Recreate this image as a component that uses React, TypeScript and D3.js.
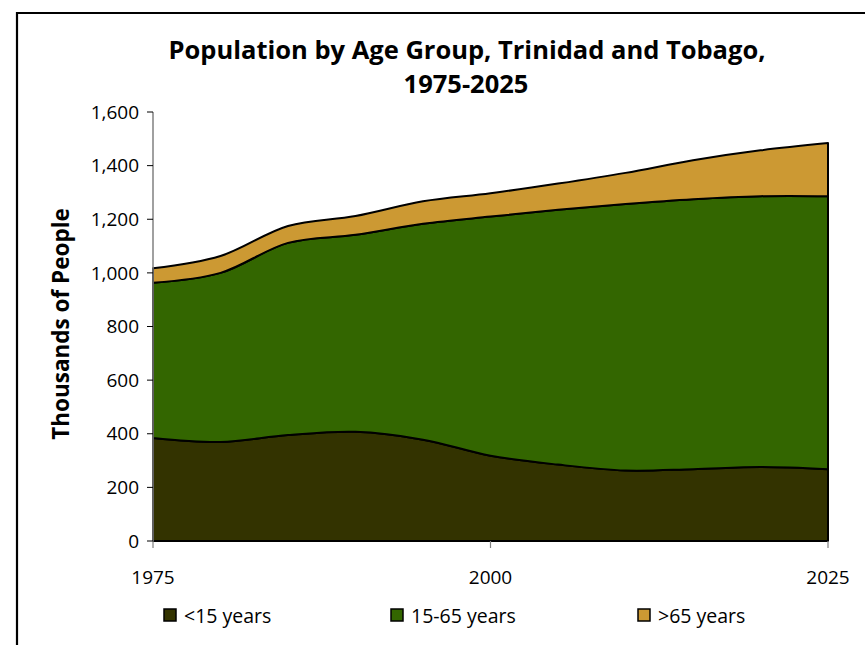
import { useEffect, useRef } from 'react';
import * as d3 from 'd3';

const YEARS = [1975, 1980, 1985, 1990, 1995, 2000, 2005, 2010, 2015, 2020, 2025];
const UNDER_15 = [384, 369, 395, 407, 378, 318, 285, 263, 268, 276, 268];
const AGE_15_65 = [579, 631, 717, 735, 805, 892, 950, 994, 1007, 1010, 1018];
const OVER_65 = [54, 63, 63, 70, 84, 87, 98, 116, 145, 171, 198];

const SERIES = ['<15 years', '15-65 years', '>65 years'];
const COLORS = ['#333300', '#336600', '#cc9933'];
const Y_TICKS = [0, 200, 400, 600, 800, 1000, 1200, 1400, 1600];
const X_TICKS = [1975, 2000, 2025];

const FONT = '"Open Sans", "Noto Sans", sans-serif';

type Row = { year: number; a: number; b: number; c: number };

export default function App() {
  const svgRef = useRef<SVGSVGElement>(null);

  useEffect(() => {
    const svg = d3.select(svgRef.current);
    if (!svg.node()) return;
    svg.selectAll('*').remove();

    const width = 865;
    const height = 645;
    const margin = { top: 112, right: 37, bottom: 104, left: 153 };

    const rows: Row[] = YEARS.map((year, i) => ({
      year,
      a: UNDER_15[i],
      b: AGE_15_65[i],
      c: OVER_65[i],
    }));

    const x = d3.scaleLinear().domain([1975, 2025]).range([margin.left, width - margin.right]);
    const y = d3.scaleLinear().domain([0, 1600]).range([height - margin.bottom, margin.top]);

    // frame
    svg.append('path')
      .attr('d', `M17,${height + 5} V13 H${width + 5}`)
      .attr('fill', 'none')
      .attr('stroke', '#000')
      .attr('stroke-width', 2.2);

    const stack = d3.stack<Row>().keys(['a', 'b', 'c']);
    const layers = stack(rows);

    const area = d3
      .area<d3.SeriesPoint<Row>>()
      .x((d) => x(d.data.year))
      .y0((d) => y(d[0]))
      .y1((d) => y(d[1]))
      .curve(d3.curveCatmullRom.alpha(0.5));

    const g = svg.append('g');

    layers.forEach((layer, i) => {
      g.append('path')
        .datum(layer)
        .attr('fill', COLORS[i])
        .attr('stroke', '#000')
        .attr('stroke-width', 2)
        .attr('stroke-linejoin', 'round')
        .attr('d', area);
    });

    // y axis
    const yAxis = svg.append('g').attr('transform', `translate(${margin.left},0)`);
    yAxis.append('line')
      .attr('x1', 0).attr('x2', 0)
      .attr('y1', y(1600)).attr('y2', y(0))
      .attr('stroke', '#808080')
      .attr('stroke-width', 1.5);
    Y_TICKS.forEach((t) => {
      yAxis.append('line')
        .attr('x1', -6).attr('x2', 0)
        .attr('y1', y(t)).attr('y2', y(t))
        .attr('stroke', '#000')
        .attr('stroke-width', 1);
      yAxis.append('text')
        .attr('x', -14)
        .attr('y', y(t))
        .attr('dy', '0.35em')
        .attr('text-anchor', 'end')
        .attr('font-family', FONT)
        .attr('font-size', 19)
        .attr('fill', '#000')
        .text(d3.format(',')(t));
    });

    // x axis
    const xAxis = svg.append('g').attr('transform', `translate(0,${y(0)})`);
    X_TICKS.forEach((t) => {
      xAxis.append('line')
        .attr('x1', x(t)).attr('x2', x(t))
        .attr('y1', 0).attr('y2', 7)
        .attr('stroke', '#808080')
        .attr('stroke-width', 1.2);
      xAxis.append('text')
        .attr('x', x(t))
        .attr('y', 43)
        .attr('text-anchor', 'middle')
        .attr('font-family', FONT)
        .attr('font-size', 19)
        .attr('fill', '#000')
        .text(t);
    });

    // titles
    const title = svg.append('text')
      .attr('text-anchor', 'middle')
      .attr('font-family', FONT)
      .attr('font-weight', 'bold')
      .attr('font-size', 25.5)
      .attr('fill', '#000');
    title.append('tspan').attr('x', 467).attr('y', 59).text('Population by Age Group, Trinidad and Tobago,');
    title.append('tspan').attr('x', 466).attr('y', 93).text('1975-2025');

    svg.append('text')
      .attr('transform', `translate(69,${324}) rotate(-90)`)
      .attr('text-anchor', 'middle')
      .attr('font-family', FONT)
      .attr('font-weight', 'bold')
      .attr('font-size', 22.5)
      .attr('fill', '#000')
      .text('Thousands of People');

    // legend
    const legendX = [164, 391, 638];
    SERIES.forEach((name, i) => {
      svg.append('rect')
        .attr('x', legendX[i])
        .attr('y', 609)
        .attr('width', 12)
        .attr('height', 12)
        .attr('fill', COLORS[i])
        .attr('stroke', '#000')
        .attr('stroke-width', 1.5);
      svg.append('text')
        .attr('x', legendX[i] + 20)
        .attr('y', 623)
        .attr('font-family', FONT)
        .attr('font-size', 19.5)
        .attr('fill', '#000')
        .text(name);
    });
  }, []);

  return (
    <svg
      ref={svgRef}
      width={865}
      height={645}
      style={{ position: 'absolute', left: 0, top: 0, background: '#fff' }}
    />
  );
}
